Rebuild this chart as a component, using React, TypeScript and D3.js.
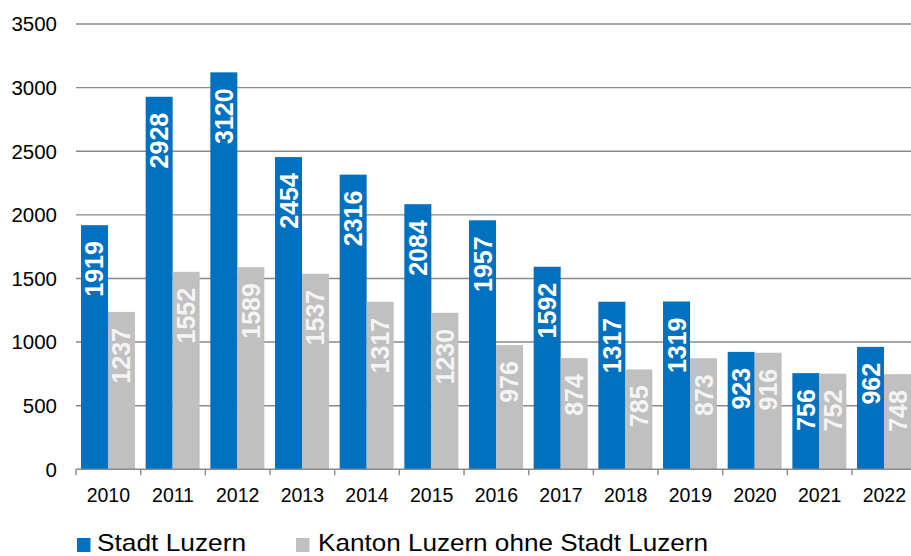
import React from "react";
import * as d3 from "d3";

const years = ["2010","2011","2012","2013","2014","2015","2016","2017","2018","2019","2020","2021","2022"];
const stadt = [1919, 2928, 3120, 2454, 2316, 2084, 1957, 1592, 1317, 1319, 923, 756, 962];
const kanton = [1237, 1552, 1589, 1537, 1317, 1230, 976, 874, 785, 873, 916, 752, 748];
const yTicks = [0, 500, 1000, 1500, 2000, 2500, 3000, 3500];
const seriesNames = ["Stadt Luzern", "Kanton Luzern ohne Stadt Luzern"];

const W = 911, H = 556;
const FONT = "'Liberation Sans', Arial, sans-serif";
const BLUE = "#0070C0";
const GRAY = "#C0C0C0";

export default function App() {
  const x = d3.scaleBand<string>().domain(years).range([76, 916.7]).paddingInner(0).paddingOuter(0);
  const inner = d3.scaleBand<string>().domain(["s", "k"]).range([5, x.bandwidth() - 5.7]);
  const y = d3.scaleLinear().domain([0, 3500]).range([469.3, 24]);
  const series = [
    { key: "s", values: stadt, color: BLUE, label: "#FFFFFF" },
    { key: "k", values: kanton, color: GRAY, label: "#F4F4F4" },
  ];
  const ticksX = years.map((yr) => x(yr) as number).concat([x.range()[1]]);

  return (
    <svg width={W} height={H} style={{ display: "block", position: "absolute", left: 0, top: 0 }} fontFamily={FONT}>
      <rect width={W} height={H} fill="#fff" />
      {yTicks.filter((t) => t > 0).map((t) => (
        <line key={t} x1={76} x2={W} y1={y(t)} y2={y(t)} stroke="#898989" strokeWidth={1.4} />
      ))}
      {yTicks.map((t) => (
        <text key={"yl" + t} x={57} y={y(t)} dy="0.36em" textAnchor="end" fontSize={20.5} fill="#000">
          {t}
        </text>
      ))}
      {series.map((s) =>
        s.values.map((v, i) => {
          const bx = (x(years[i]) as number) + (inner(s.key) as number);
          const bw = inner.bandwidth();
          const top = y(v);
          return (
            <g key={s.key + i}>
              <rect x={bx} y={top} width={bw} height={y(0) - top} fill={s.color} />
              <text
                transform={`translate(${bx + bw / 2},${top + 16}) rotate(-90)`}
                textAnchor="end"
                dy="0.36em"
                fontSize={25}
                fontWeight="bold"
                fill={s.label}
              >
                {v}
              </text>
            </g>
          );
        })
      )}
      <line x1={76} x2={W} y1={y(0)} y2={y(0)} stroke="#898989" strokeWidth={1.4} />
      {ticksX.map((tx, i) => (
        <line key={"t" + i} x1={tx} x2={tx} y1={y(0)} y2={y(0) + 6} stroke="#898989" strokeWidth={1.4} />
      ))}
      {years.map((yr) => (
        <text key={"xl" + yr} x={(x(yr) as number) + x.bandwidth() / 2} y={502} textAnchor="middle" fontSize={19.5} fill="#000">
          {yr}
        </text>
      ))}
      <rect x={77} y={538} width={13.5} height={14} fill={BLUE} />
      <text x={97} y={551} fontSize={24} textLength={149} lengthAdjust="spacingAndGlyphs" fill="#000">{seriesNames[0]}</text>
      <rect x={296} y={538} width={13.5} height={14} fill={GRAY} />
      <text x={318} y={551} fontSize={24} textLength={390} lengthAdjust="spacingAndGlyphs" fill="#000">{seriesNames[1]}</text>
    </svg>
  );
}
